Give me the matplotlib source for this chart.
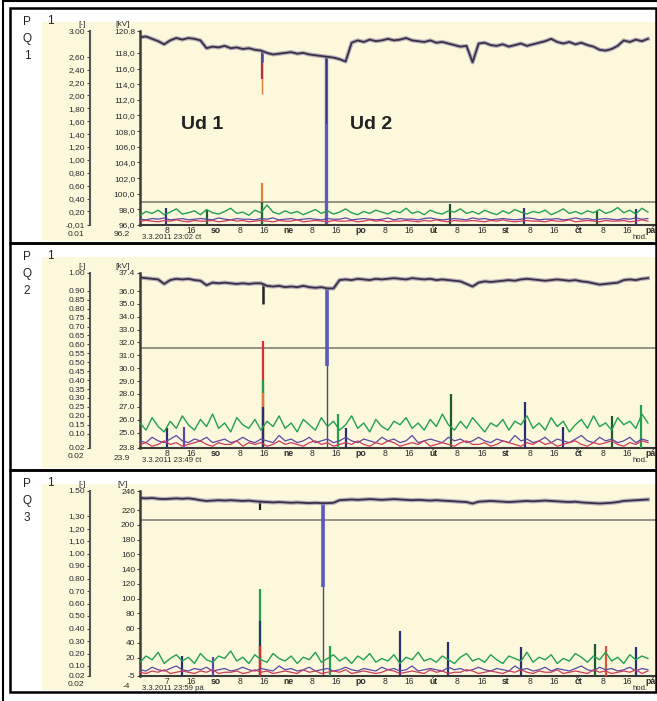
import numpy as np
import matplotlib
matplotlib.use('Agg')
import matplotlib.pyplot as plt
from matplotlib.patches import Rectangle
from matplotlib.lines import Line2D

plt.rcParams['font.family'] = ['Liberation Sans', 'DejaVu Sans']

W, H = 657, 701

# traces every 2 hours from the start of the record
hours = np.arange(0, 170, 2)

tick_hours = [9, 17, 25, 33, 41, 49, 57, 65, 73, 81, 89, 97, 105, 113, 121, 129, 137, 145, 153, 161, 169]
tick_labels = ['8', '16', 'so', '8', '16', 'ne', '8', '16', 'po', '8', '16', 'út',
               '8', '16', 'st', '8', '16', 'čt', '8', '16', 'pá']
tick_labels_3 = ['7'] + tick_labels[1:]
day_names = ['so', 'ne', 'po', 'út', 'st', 'čt', 'pá']

# ---- panel 1 (110 kV) ----
u1 = [120.0, 120.1, 119.8, 119.5, 119.1, 119.6, 119.9, 119.7, 119.9, 119.8,
      119.6, 118.6, 118.8, 118.7, 118.9, 118.6, 118.7, 118.5, 118.6, 118.4,
      118.3, 118.0, 117.8, 117.9, 118.0, 118.1, 117.9, 118.0, 117.8, 117.7,
      117.6, 117.5, 117.4, 117.2, 116.9, 119.3, 119.6, 119.4, 119.7, 119.5,
      119.6, 119.8, 119.6, 119.7, 119.9, 119.6, 119.5, 119.4, 119.6, 119.3,
      119.4, 119.2, 119.0, 118.8, 118.9, 116.8, 119.2, 119.3, 119.0, 118.9,
      119.1, 118.8, 119.0, 119.2, 118.9, 119.1, 119.3, 119.5, 119.8, 119.4,
      119.2, 119.4, 119.1, 119.3, 119.0, 118.8, 118.4, 118.3, 118.5, 118.9,
      119.6, 119.4, 119.7, 119.5, 119.8]
p1_green = [0.14, 0.20, 0.17, 0.22, 0.15, 0.19, 0.24, 0.16, 0.18, 0.21,
            0.15, 0.23, 0.18, 0.16, 0.20, 0.25, 0.17, 0.19, 0.14, 0.22,
            0.18, 0.30, 0.19, 0.16, 0.21, 0.17, 0.20, 0.15, 0.19, 0.23,
            0.17, 0.21, 0.16, 0.19, 0.24, 0.18, 0.15, 0.20, 0.17, 0.22,
            0.19, 0.16, 0.21, 0.18, 0.25, 0.17, 0.20, 0.15, 0.22, 0.18,
            0.16, 0.21, 0.19, 0.24, 0.17, 0.20, 0.16, 0.22, 0.18, 0.15,
            0.21, 0.17, 0.23, 0.19, 0.16, 0.20, 0.18, 0.22, 0.15, 0.19,
            0.24, 0.17, 0.20, 0.16, 0.21, 0.18, 0.23, 0.17, 0.20, 0.26,
            0.18, 0.22, 0.16, 0.25, 0.19]
p1_red = [0.05, 0.06, 0.05, 0.04, 0.06, 0.05, 0.07, 0.05, 0.04, 0.06,
          0.05, 0.05, 0.06, 0.04, 0.05, 0.07, 0.05, 0.06, 0.04, 0.05,
          0.06, 0.05, 0.04, 0.06, 0.05, 0.05, 0.07, 0.04, 0.05, 0.06,
          0.05, 0.04, 0.06, 0.05, 0.05, 0.06, 0.04, 0.05, 0.07, 0.05,
          0.06, 0.04, 0.05, 0.05, 0.06, 0.05, 0.04, 0.06, 0.05, 0.07,
          0.05, 0.04, 0.06, 0.05, 0.05, 0.06, 0.05, 0.04, 0.06, 0.05,
          0.07, 0.05, 0.04, 0.05, 0.06, 0.05, 0.05, 0.04, 0.06, 0.05,
          0.05, 0.07, 0.04, 0.05, 0.06, 0.05, 0.04, 0.06, 0.05, 0.05,
          0.06, 0.04, 0.05, 0.07, 0.05]
p1_blue = [0.08, 0.07, 0.09, 0.08, 0.10, 0.07, 0.08, 0.09, 0.07, 0.08,
           0.09, 0.08, 0.07, 0.10, 0.08, 0.07, 0.09, 0.08, 0.08, 0.07,
           0.09, 0.08, 0.10, 0.07, 0.08, 0.09, 0.07, 0.08, 0.09, 0.08,
           0.07, 0.09, 0.08, 0.08, 0.10, 0.07, 0.08, 0.09, 0.08, 0.07,
           0.08, 0.10, 0.07, 0.09, 0.08, 0.08, 0.07, 0.09, 0.10, 0.08,
           0.07, 0.08, 0.09, 0.08, 0.07, 0.10, 0.08, 0.09, 0.07, 0.08,
           0.09, 0.08, 0.07, 0.08, 0.10, 0.09, 0.07, 0.08, 0.08, 0.09,
           0.07, 0.08, 0.10, 0.08, 0.09, 0.07, 0.08, 0.09, 0.08, 0.07,
           0.09, 0.08, 0.10, 0.08, 0.09]
p1_level = 99.0
# dips: (hour, from, to, colour, width)
p1_dips = [(40.4, 118.3, 112.8, '#e0803c', 1.0), (40.4, 118.3, 114.7, '#b03040', 1.6),
           (40.4, 118.3, 116.9, '#4a4aa0', 1.8), (61.5, 117.5, 96.0, '#5c5cbc', 2.4),
           (61.5, 117.5, 109.0, '#34347a', 0.8)]
# spikes of the [-] quantities: (hour, value, colour)
p1_spikes = [(40.4, 0.64, '#e0803c'), (40.4, 0.35, '#1f6a3a'), (102.6, 0.32, '#1f4a35'),
             (127.0, 0.26, '#2a3a70'), (151.0, 0.21, '#1f5a35'), (164.0, 0.24, '#2a3a70'),
             (8.5, 0.25, '#2a3a70'), (22.0, 0.22, '#1f5a35')]
p1_fticks = [3.00, 2.60, 2.40, 2.20, 2.00, 1.80, 1.60, 1.40, 1.20, 1.00, 0.80, 0.60, 0.40, 0.20, -0.01]
p1_flabels = ['3.00', '2,60', '2,40', '2,20', '2,00', '1,80', '1,60', '1,40', '1,20', '1,00',
              '0,80', '0,60', '0,40', '0,20', '-0,01']
p1_uticks = [120.8, 118, 116, 114, 112, 110, 108, 106, 104, 102, 100, 98, 96]
p1_ulabels = ['120.8', '118,0', '116,0', '114,0', '112,0', '110,0', '108,0', '106,0', '104,0',
              '102,0', '100,0', '98,0', '96,0']

# ---- panel 2 (35 kV) ----
u2 = [37.05, 37.0, 36.95, 36.9, 36.55, 36.85, 36.95, 36.9, 36.95, 36.85,
      36.8, 36.45, 36.65, 36.6, 36.65, 36.6, 36.55, 36.6, 36.55, 36.6,
      36.6, 36.4, 36.35, 36.4, 36.3, 36.35, 36.3, 36.4, 36.3, 36.25,
      36.3, 36.2, 36.2, 36.85, 36.9, 36.85, 36.95, 36.9, 36.85, 36.95,
      36.9, 36.95, 37.0, 36.95, 36.9, 37.0, 36.95, 36.9, 36.95, 36.85,
      36.9, 36.85, 36.8, 36.75, 36.55, 36.35, 36.65, 36.75, 36.7, 36.75,
      36.8, 36.85, 36.8, 36.9, 36.95, 36.9, 36.85, 36.8, 36.85, 36.9,
      36.85, 36.8, 36.85, 36.75, 36.7, 36.6, 36.5, 36.55, 36.6, 36.65,
      36.85, 36.9, 36.85, 36.95, 37.0]
p2_green = [0.16, 0.12, 0.19, 0.14, 0.11, 0.17, 0.13, 0.20, 0.15, 0.12,
            0.18, 0.14, 0.21, 0.13, 0.16, 0.11, 0.19, 0.15, 0.13, 0.18,
            0.12, 0.17, 0.14, 0.20, 0.13, 0.16, 0.11, 0.18, 0.15, 0.12,
            0.19, 0.14, 0.17, 0.12, 0.15, 0.20, 0.13, 0.16, 0.11, 0.18,
            0.14, 0.12, 0.17, 0.15, 0.19, 0.13, 0.16, 0.12, 0.18, 0.14,
            0.21, 0.15, 0.12, 0.17, 0.13, 0.19, 0.15, 0.11, 0.16, 0.14,
            0.18, 0.12, 0.17, 0.15, 0.20, 0.13, 0.16, 0.12, 0.19, 0.14,
            0.17, 0.11, 0.15, 0.18, 0.13, 0.20, 0.14, 0.16, 0.12, 0.19,
            0.15, 0.17, 0.13, 0.21, 0.16]
p2_red = [0.04, 0.05, 0.03, 0.04, 0.06, 0.04, 0.05, 0.03, 0.04, 0.05,
          0.06, 0.04, 0.03, 0.05, 0.04, 0.04, 0.06, 0.03, 0.05, 0.04,
          0.05, 0.03, 0.04, 0.06, 0.04, 0.05, 0.04, 0.03, 0.05, 0.06,
          0.04, 0.05, 0.03, 0.04, 0.05, 0.04, 0.06, 0.04, 0.03, 0.05,
          0.04, 0.06, 0.05, 0.03, 0.04, 0.05, 0.04, 0.06, 0.03, 0.04,
          0.05, 0.04, 0.03, 0.05, 0.06, 0.04, 0.04, 0.05, 0.03, 0.04,
          0.06, 0.05, 0.04, 0.03, 0.05, 0.04, 0.06, 0.04, 0.05, 0.03,
          0.04, 0.05, 0.06, 0.04, 0.03, 0.05, 0.04, 0.05, 0.06, 0.04,
          0.03, 0.05, 0.04, 0.06, 0.05]
p2_blue = [0.06, 0.05, 0.08, 0.06, 0.05, 0.07, 0.09, 0.06, 0.05, 0.07,
           0.06, 0.08, 0.05, 0.06, 0.07, 0.05, 0.06, 0.08, 0.06, 0.05,
           0.07, 0.06, 0.05, 0.09, 0.06, 0.07, 0.05, 0.06, 0.08, 0.05,
           0.06, 0.07, 0.05, 0.06, 0.08, 0.06, 0.05, 0.07, 0.06, 0.05,
           0.08, 0.06, 0.07, 0.05, 0.06, 0.09, 0.05, 0.06, 0.07, 0.06,
           0.05, 0.08, 0.06, 0.07, 0.05, 0.06, 0.08, 0.06, 0.05, 0.07,
           0.06, 0.05, 0.09, 0.06, 0.07, 0.05, 0.06, 0.08, 0.05, 0.07,
           0.06, 0.05, 0.07, 0.09, 0.06, 0.05, 0.08, 0.06, 0.07, 0.05,
           0.06, 0.08, 0.05, 0.07, 0.06]
p2_level = 31.55
p2_dips = [(40.8, 36.6, 35.0, '#222222', 1.8), (61.8, 36.25, 23.8, '#4a4a80', 1.0),
           (61.8, 36.25, 30.2, '#5a5ac0', 2.6)]
p2_spikes = [(40.8, 0.62, '#d83030'), (40.8, 0.40, '#22a050'), (40.8, 0.33, '#e07a3a'),
             (40.8, 0.25, '#27306e'), (103.0, 0.32, '#1d5a30'), (127.5, 0.28, '#27306e'),
             (156.0, 0.20, '#1d5a30'), (165.6, 0.26, '#22a050'), (9.0, 0.13, '#27306e'),
             (14.5, 0.14, '#5a48a8'), (65.6, 0.21, '#22a050'), (68.0, 0.13, '#27306e'),
             (140.0, 0.14, '#27306e')]
p2_fticks = [1.00, 0.90, 0.85, 0.80, 0.75, 0.70, 0.65, 0.60, 0.55, 0.50, 0.45, 0.40, 0.35,
             0.30, 0.25, 0.20, 0.15, 0.10, 0.02]
p2_flabels = ['1.00', '0.90', '0.85', '0.80', '0.75', '0.70', '0.65', '0.60', '0.55', '0.50',
              '0.45', '0.40', '0.35', '0.30', '0.25', '0.20', '0.15', '0.10', '0.02']
p2_uticks = [37.4, 36, 35, 34, 33, 32, 31, 30, 29, 28, 27, 26, 25, 23.8]
p2_ulabels = ['37.4', '36.0', '35.0', '34.0', '33.0', '32.0', '31.0', '30.0', '29.0', '28.0',
              '27.0', '26.0', '25.0', '23.8']

# ---- panel 3 (0.4 kV) ----
u3 = [236.5, 236.0, 236.5, 235.5, 235.0, 235.5, 236.0, 235.5, 236.0, 235.0,
      233.5, 232.5, 233.0, 233.5, 233.0, 233.5, 233.0, 232.5, 233.0, 232.0,
      231.5, 231.0, 230.5, 231.0, 230.5, 230.0, 230.5, 230.0, 229.5, 230.0,
      229.5, 229.5, 230.0, 233.5, 234.0, 234.5, 234.0, 234.5, 235.0, 234.5,
      234.0, 234.5, 235.0, 234.5, 234.0, 233.5, 234.0, 233.5, 233.0, 233.5,
      233.0, 232.5, 232.0, 231.5, 231.0, 229.0, 231.5, 232.0, 232.5, 232.0,
      231.5, 231.0, 231.5, 232.0, 232.5, 232.0, 232.5, 233.0, 232.5, 232.0,
      231.5, 231.0, 231.5, 230.5, 230.0, 229.5, 229.0, 229.5, 230.0, 231.0,
      232.5, 233.0, 233.5, 234.0, 234.5]
p3_green = [0.13, 0.18, 0.15, 0.21, 0.12, 0.16, 0.19, 0.14, 0.17, 0.12,
            0.20, 0.15, 0.13, 0.18, 0.16, 0.22, 0.14, 0.17, 0.12, 0.19,
            0.15, 0.13, 0.20, 0.16, 0.14, 0.18, 0.12, 0.17, 0.15, 0.21,
            0.13, 0.16, 0.19, 0.14, 0.17, 0.12, 0.18, 0.15, 0.20, 0.13,
            0.16, 0.14, 0.19, 0.12, 0.17, 0.15, 0.21, 0.14, 0.16, 0.13,
            0.18, 0.15, 0.12, 0.17, 0.20, 0.14, 0.16, 0.13, 0.19, 0.15,
            0.12, 0.18, 0.16, 0.14, 0.21, 0.13, 0.17, 0.15, 0.19, 0.12,
            0.16, 0.14, 0.20, 0.17, 0.13, 0.18, 0.15, 0.21, 0.14, 0.17,
            0.12, 0.19, 0.15, 0.18, 0.16]
p3_red = [0.05, 0.04, 0.06, 0.05, 0.07, 0.04, 0.05, 0.06, 0.05, 0.04,
          0.06, 0.05, 0.07, 0.04, 0.05, 0.05, 0.06, 0.04, 0.05, 0.07,
          0.05, 0.06, 0.04, 0.05, 0.06, 0.05, 0.04, 0.07, 0.05, 0.06,
          0.04, 0.05, 0.06, 0.05, 0.07, 0.04, 0.05, 0.06, 0.05, 0.04,
          0.05, 0.07, 0.06, 0.04, 0.05, 0.06, 0.05, 0.04, 0.07, 0.05,
          0.06, 0.04, 0.05, 0.05, 0.07, 0.06, 0.04, 0.05, 0.06, 0.05,
          0.04, 0.06, 0.05, 0.07, 0.05, 0.04, 0.06, 0.05, 0.05, 0.07,
          0.04, 0.05, 0.06, 0.05, 0.04, 0.07, 0.05, 0.06, 0.04, 0.05,
          0.06, 0.05, 0.07, 0.04, 0.06]
p3_blue = [0.07, 0.06, 0.09, 0.07, 0.06, 0.08, 0.10, 0.07, 0.06, 0.08,
           0.07, 0.09, 0.06, 0.07, 0.08, 0.06, 0.07, 0.09, 0.07, 0.06,
           0.08, 0.07, 0.06, 0.10, 0.07, 0.08, 0.06, 0.07, 0.09, 0.06,
           0.07, 0.08, 0.06, 0.07, 0.09, 0.07, 0.06, 0.08, 0.07, 0.06,
           0.09, 0.07, 0.08, 0.06, 0.07, 0.10, 0.06, 0.07, 0.08, 0.07,
           0.06, 0.09, 0.07, 0.08, 0.06, 0.07, 0.09, 0.07, 0.06, 0.08,
           0.07, 0.06, 0.10, 0.07, 0.08, 0.06, 0.07, 0.09, 0.06, 0.08,
           0.07, 0.06, 0.08, 0.10, 0.07, 0.06, 0.09, 0.07, 0.08, 0.06,
           0.07, 0.09, 0.06, 0.08, 0.07]
p3_level = 207.0
p3_dips = [(39.8, 231.5, 220.0, '#222222', 1.6), (60.5, 229.5, -5.0, '#4a4a80', 1.0),
           (60.5, 229.5, 116.0, '#5a5ac0', 2.6)]
p3_spikes = [(39.8, 0.72, '#22a050'), (39.8, 0.46, '#1d4060'), (39.8, 0.26, '#d83030'),
             (86.0, 0.38, '#27306e'), (102.0, 0.29, '#27306e'), (126.0, 0.25, '#27306e'),
             (150.5, 0.28, '#1d5a30'), (154.0, 0.26, '#e0503a'), (164.0, 0.25, '#27306e'),
             (63.0, 0.26, '#22a050'), (14.0, 0.18, '#27306e'), (24.0, 0.17, '#5a48a8')]
p3_fticks = [1.50, 1.30, 1.20, 1.10, 1.00, 0.90, 0.80, 0.70, 0.60, 0.50, 0.40, 0.30, 0.20, 0.10, 0.02]
p3_flabels = ['1.50', '1,30', '1,20', '1,10', '1.00', '0.90', '0.80', '0.70', '0.60', '0.50',
              '0.40', '0.30', '0.20', '0.10', '0.02']
p3_uticks = [246, 220, 200, 180, 160, 140, 120, 100, 80, 60, 40, 20, -5]
p3_ulabels = ['246', '220', '200', '180', '160', '140', '120', '100', '80', '60', '40', '20', '-5']


def fx(x):
    return x / W


def fy(y):
    return 1 - y / H


fig = plt.figure(figsize=(W / 100, H / 100), dpi=100)
fig.patch.set_facecolor('white')
txt = '#2b2b2b'


def panel(num, box, top, bot, u, ulim, uticks, ulabels, flim, fticks, flabels,
          green, red, blue, level, dips, spikes, unit, below, date, xlabels):
    # cream background and frame of the panel
    fig.add_artist(Rectangle((fx(42), fy(box[1] - 2)), fx(657) - fx(42), fy(box[0] + 14) - fy(box[1] - 2),
                             transform=fig.transFigure, facecolor='#fbf8dc', edgecolor='none', zorder=-1))
    fig.add_artist(Rectangle((fx(10), fy(box[1])), fx(655.5) - fx(10), fy(box[0]) - fy(box[1]),
                             transform=fig.transFigure, fill=False, edgecolor='black', lw=1.8, zorder=5))
    for i, s in enumerate(['P', 'Q', str(num)]):
        fig.text(fx(27), fy(box[0] + 14 + 17 * i), s, fontsize=8.5, ha='center', va='center', color='#222')
    fig.text(fx(50), fy(box[0] + 13), '1', fontsize=8.5, ha='center', va='center', color='#222')

    ax = fig.add_axes([fx(140), fy(bot), fx(657) - fx(140), fy(top) - fy(bot)])
    ax.patch.set_alpha(0)
    ax.set_xlim(0, 171)
    ax.set_ylim(*ulim)
    ax.axhline(level, color='#8c8a7e', lw=1.3)
    for t, y0, y1, c, lw in dips:
        ax.vlines(t, y1, y0, color=c, lw=lw)
    ax.plot(hours, u, color='#9a8fae', lw=3.0, alpha=0.7)
    ax.plot(hours, u, color='#3a3045', lw=1.3)

    ax2 = ax.twinx()
    ax2.set_ylim(*flim)
    for t, v, c in spikes:
        ax2.vlines(t, flim[0], v, color=c, lw=1.6)
    ax2.plot(hours, green, color='#22a050', lw=1.0)
    ax2.plot(hours, blue, color='#5a48a8', lw=0.9)
    ax2.plot(hours, red, color='#d03a5a', lw=0.9)

    for s in ['top', 'right']:
        ax.spines[s].set_visible(False)
    for s in ['top', 'right', 'bottom']:
        ax2.spines[s].set_visible(False)
    ax.spines['left'].set_color('#3a3a3a')
    ax.spines['left'].set_linewidth(1.8)
    ax.spines['bottom'].set_color('#3a3a3a')
    ax.spines['bottom'].set_linewidth(1.5)
    ax2.spines['left'].set_visible(True)
    ax2.spines['left'].set_position(('axes', -50 / 517))
    ax2.spines['left'].set_color('#555555')
    ax2.spines['left'].set_linewidth(1.5)
    ax2.yaxis.tick_left()

    ax.set_yticks(uticks)
    ax.set_yticklabels(ulabels)
    ax2.set_yticks(fticks)
    ax2.set_yticklabels(flabels)
    for a in (ax, ax2):
        a.tick_params(axis='y', length=2, width=0.8, pad=1.5, labelsize=6, labelcolor=txt, color='#444')
    ax.set_xticks(tick_hours)
    ax.set_xticklabels(xlabels)
    ax.tick_params(axis='x', length=0, pad=0.8, labelsize=6.2, labelcolor=txt)
    for lab in ax.get_xticklabels():
        if lab.get_text() in day_names:
            lab.set_fontweight('bold')

    fig.text(fx(82), fy(top - 6), '[-]', fontsize=6, ha='center', va='center', color=txt)
    fig.text(fx(123), fy(top - 6), unit, fontsize=6, ha='center', va='center', color=txt)
    fig.text(fx(84), fy(bot + 9), below[0], fontsize=6, ha='right', va='center', color=txt)
    fig.text(fx(130), fy(bot + 10), below[1], fontsize=6, ha='right', va='center', color=txt)
    fig.text(fx(142), fy(bot + 12.5), date, fontsize=5.6, ha='left', va='center', color=txt)
    fig.text(fx(640), fy(bot + 13), 'hod.', fontsize=5.6, ha='center', va='center', color=txt)
    return ax


ax1 = panel(1, (8, 243), 31, 225, u1, (96.0, 120.8), p1_uticks, p1_ulabels, (-0.01, 3.00),
            p1_fticks, p1_flabels, p1_green, p1_red, p1_blue, p1_level, p1_dips, p1_spikes,
            '[kV]', ('0.01', '96.2'), '3.3.2011 23:02 čt', tick_labels)
ax1.text(20.7, 108.8, 'Ud 1', fontsize=14, fontweight='bold', ha='center', va='center', color='#222')
ax1.text(76.3, 108.8, 'Ud 2', fontsize=14, fontweight='bold', ha='center', va='center', color='#222')

panel(2, (243, 470), 273, 448, u2, (23.8, 37.4), p2_uticks, p2_ulabels, (0.02, 1.00),
      p2_fticks, p2_flabels, p2_green, p2_red, p2_blue, p2_level, p2_dips, p2_spikes,
      '[kV]', ('0.02', '23.9'), '3.3.2011 23:49 čt', tick_labels)

panel(3, (470, 692), 491, 676, u3, (-5, 246), p3_uticks, p3_ulabels, (0.02, 1.50),
      p3_fticks, p3_flabels, p3_green, p3_red, p3_blue, p3_level, p3_dips, p3_spikes,
      '[V]', ('0.02', '-4'), '3.3.2011 23:59 pá', tick_labels_3)

# outer frame of the scan
fig.add_artist(Line2D([fx(3), fx(3)], [0, 1], transform=fig.transFigure, color='black', lw=1.5, zorder=5))
fig.add_artist(Line2D([fx(3), 1], [fy(1), fy(1)], transform=fig.transFigure, color='black', lw=1.5, zorder=5))

fig.savefig('out.png', dpi=100, facecolor='white')
